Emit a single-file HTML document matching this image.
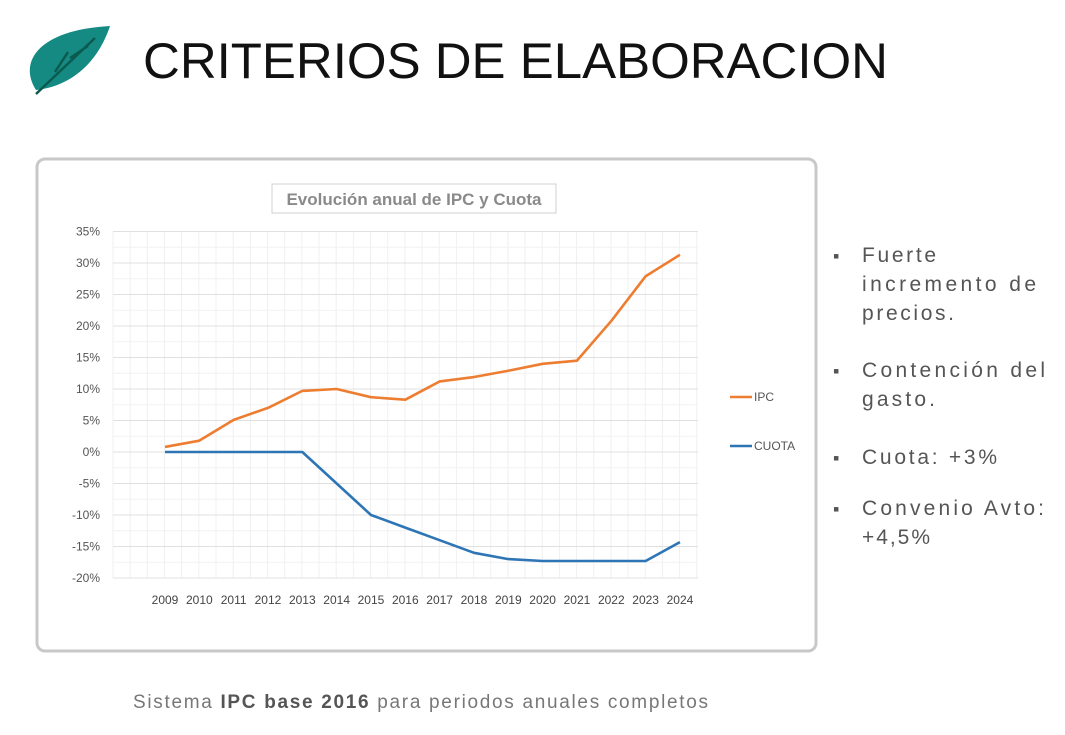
<!DOCTYPE html>
<html><head><meta charset="utf-8"><style>
body{margin:0;width:1065px;height:735px;background:#fff;overflow:hidden;font-family:"Liberation Sans",sans-serif;position:relative}
.t{position:absolute}
</style></head><body>
<svg class="t" style="left:0;top:0" width="1065" height="735">
  <g>
    <path d="M36,90 C18,62 38,30 110,26 C98,62 72,86 36,90Z" fill="#148a82"/>
    <path d="M36,94 L95,38 M55,72 L68,52 M70,58 L88,46" stroke="#0b5a50" stroke-width="2.5" fill="none"/>
  </g>
  <text x="143" y="78" font-size="50" fill="#111" textLength="745" lengthAdjust="spacingAndGlyphs">CRITERIOS DE ELABORACION</text>
  <rect x="37" y="159" width="779" height="492" rx="8" fill="#fff" stroke="#c8c8c8" stroke-width="3"/>
  <rect x="272" y="184" width="284" height="29" fill="#fff" stroke="#d0d0d0"/>
  <text x="414" y="205" font-size="17" font-weight="bold" fill="#8a8a8a" text-anchor="middle">Evolución anual de IPC y Cuota</text>
  <g id="chart"></g>
  <g>
    <line x1="730" y1="397" x2="752" y2="397" stroke="#ed7d31" stroke-width="2.5"/>
    <text x="754" y="401" font-size="12" fill="#555">IPC</text>
    <line x1="730" y1="446" x2="752" y2="446" stroke="#2e75b6" stroke-width="2.5"/>
    <text x="754" y="450" font-size="12" fill="#555">CUOTA</text>
  </g>
  <g font-size="21" fill="#555">
    <text x="833" y="262" font-size="18">▪</text><text x="862" y="262" textLength="74" lengthAdjust="spacing">Fuerte</text>
    <text x="862" y="291" textLength="174" lengthAdjust="spacing">incremento de</text><text x="862" y="320" textLength="92" lengthAdjust="spacing">precios.</text>
    <text x="833" y="377" font-size="18">▪</text><text x="862" y="377" textLength="183" lengthAdjust="spacing">Contención del</text>
    <text x="862" y="406" textLength="73" lengthAdjust="spacing">gasto.</text>
    <text x="833" y="464" font-size="18">▪</text><text x="862" y="464" textLength="135" lengthAdjust="spacing">Cuota: +3%</text>
    <text x="833" y="515" font-size="18">▪</text><text x="862" y="515" textLength="182" lengthAdjust="spacing">Convenio Avto:</text>
    <text x="862" y="544" textLength="68" lengthAdjust="spacing">+4,5%</text>
  </g>
  <text x="133" y="708" font-size="19" fill="#777" textLength="575" lengthAdjust="spacing">Sistema <tspan font-weight="bold" fill="#555">IPC base 2016</tspan> para periodos anuales completos</text>
</svg>
<script>
const years=["2009","2010","2011","2012","2013","2014","2015","2016","2017","2018","2019","2020","2021","2022","2023","2024"];
const ipc=[0.8,1.8,5.1,7.0,9.7,10.0,8.7,8.3,11.2,11.9,12.9,14.0,14.5,20.8,27.9,31.3];
const cuota=[0,0,0,0,0,-5,-10,-12,-14,-16,-17,-17.3,-17.3,-17.3,-17.3,-14.3];
const yTicks=[35,30,25,20,15,10,5,0,-5,-10,-15,-20];
const NS="http://www.w3.org/2000/svg";
const g=document.getElementById('chart');
const X=i=>165+i*34.33, Y=v=>452-v*6.3;
function el(t,a){const e=document.createElementNS(NS,t);for(const k in a)e.setAttribute(k,a[k]);g.appendChild(e);return e;}
for(let x=113;x<=699;x+=17.17){const l=el('line',{x1:x,x2:x,y1:Y(35),y2:Y(-20),stroke:'#f0f0f0'});

}
for(let v=35;v>=-20;v-=2.5){const l=el('line',{x1:113,x2:698,y1:Y(v),y2:Y(v),stroke:v%5==0?'#e0e0e0':'#f2f2f2'});

}
yTicks.forEach(v=>{const t=el('text',{x:100,y:Y(v)+4,'font-size':12,fill:'#555','text-anchor':'end'});t.textContent=v+'%';

});
years.forEach((y,i)=>{const t=el('text',{x:X(i),y:604,'font-size':12,fill:'#444','text-anchor':'middle'});t.textContent=y;

});
function line(d,c,n){const p=el('polyline',{points:d.map((v,i)=>X(i)+','+Y(v)).join(' '),fill:'none',stroke:c,'stroke-width':2.6,'stroke-linejoin':'round'});

}
line(ipc,'#ed7d31','ipc-line');
line(cuota,'#2e75b6','cuota-line');
</script>
</body></html>
